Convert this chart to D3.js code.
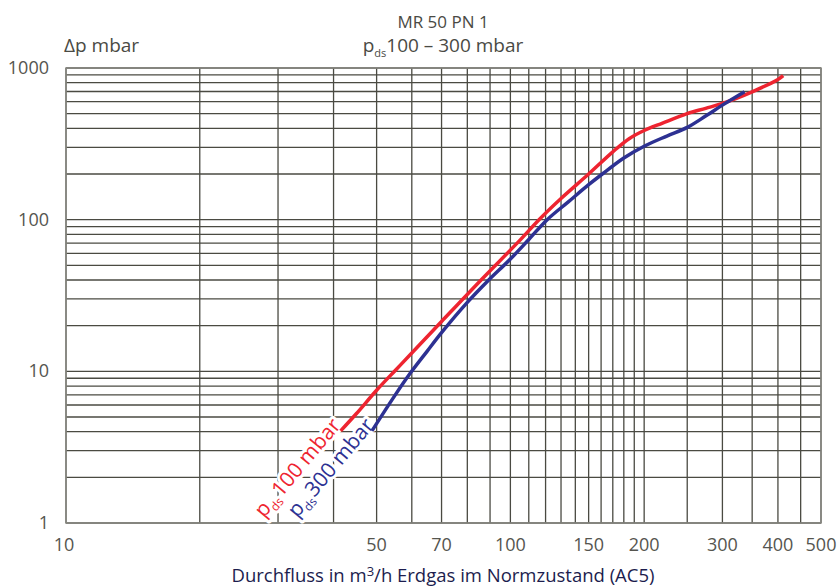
<!DOCTYPE html>
<html>
<head>
<meta charset="utf-8">
<script src="https://cdn.jsdelivr.net/npm/d3@7"></script>
<style>
  body { margin: 0; background: #fff; }
  svg text { font-family: "Open Sans", Lato, sans-serif; }
</style>
</head>
<body>
<svg id="chart" width="839" height="588"></svg>
<script>
// flow values (m3/h) and pressure drop (mbar)
var flow100 = [41.5, 45, 50, 55, 60, 70, 85.6, 105, 116, 130, 150, 170, 185, 200, 220, 250, 275, 300, 350, 400, 411];
var dp100   = [4.05, 5.25, 7.5, 10.1, 13.2, 21.3, 39.6, 73, 100, 138, 200, 280, 342, 387, 433, 500, 542, 584, 697, 840, 890];

var flow300 = [48.8, 54.8, 59.5, 65, 70, 80, 88.6, 100, 110, 121, 135, 150, 161, 180, 200, 225, 250, 275, 300, 336.5];
var dp300   = [4.05, 6.84, 9.7, 13.6, 18, 28.5, 39, 55, 74, 100, 131, 170, 200, 255, 305, 356, 406, 482, 569, 697];

var xTickLabels = [10, 50, 70, 100, 150, 200, 300, 400, 500];
var yTickLabels = [1, 10, 100, 1000];
var xGrid = [10, 20, 30, 40, 50, 60, 70, 80, 90, 100, 110, 120, 130, 140, 150, 160, 170, 180, 190, 200, 250, 300, 350, 400, 450, 500];
var yGrid = [1, 2, 3, 4, 5, 6, 7, 8, 9, 10, 20, 30, 40, 50, 60, 70, 80, 90, 100, 200, 300, 400, 500, 600, 700, 800, 900, 1000];

var plotLeft = 66, plotRight = 821, plotTop = 68, plotBottom = 523;

var svg = d3.select("#chart");

var x = d3.scaleLog().domain([10, 500]).range([plotLeft, plotRight]);
var y = d3.scaleLog().domain([1, 1000]).range([plotBottom, plotTop]);

//grid lines
svg.append("g").selectAll("line")
    .data(yGrid)
    .enter()
    .append("line")
    .attr("x1", plotLeft).attr("x2", plotRight)
    .attr("y1", function (d) { return y(d); })
    .attr("y2", function (d) { return y(d); })
    .style("stroke", "#4a4a42")
    .style("stroke-width", 1.3);

svg.append("g").selectAll("line")
    .data(xGrid)
    .enter()
    .append("line")
    .attr("y1", plotTop).attr("y2", plotBottom)
    .attr("x1", function (d) { return x(d); })
    .attr("x2", function (d) { return x(d); })
    .style("stroke", "#4a4a42")
    .style("stroke-width", 1.3);

//frame
svg.append("rect")
    .attr("x", plotLeft).attr("y", plotTop)
    .attr("width", plotRight - plotLeft).attr("height", plotBottom - plotTop)
    .style("fill", "none")
    .style("stroke", "#8a8a84")
    .style("stroke-width", 1.5);

//tick labels
svg.append("g").selectAll("text")
    .data(xTickLabels)
    .enter()
    .append("text")
    .attr("x", function (d) { return d == 10 ? x(d) - 2 : x(d); })
    .attr("y", 551)
    .attr("text-anchor", "middle")
    .style("font-size", "18px")
    .style("fill", "#55554f")
    .text(function (d) { return d; });

svg.append("g").selectAll("text")
    .data(yTickLabels)
    .enter()
    .append("text")
    .attr("x", 49)
    .attr("y", function (d) { return y(d) + 6; })
    .attr("text-anchor", "end")
    .style("font-size", "18px")
    .style("fill", "#55554f")
    .text(function (d) { return d; });

//titles
svg.append("text")
    .attr("x", 443).attr("y", 28)
    .attr("text-anchor", "middle")
    .style("font-size", "17px")
    .style("fill", "#4a4a44")
    .text("MR 50 PN 1");

var sub = svg.append("text")
    .attr("x", 443).attr("y", 52)
    .attr("text-anchor", "middle")
    .style("font-size", "19px")
    .style("fill", "#4a4a44");
sub.append("tspan").text("p");
sub.append("tspan").attr("dy", 5).style("font-size", "11px").text("ds");
sub.append("tspan").attr("dy", -5).text("100 \u2013 300 mbar");

svg.append("text")
    .attr("x", 64).attr("y", 52)
    .style("font-size", "19px")
    .style("fill", "#4a4a44")
    .text("\u0394p mbar");

var xt = svg.append("text")
    .attr("x", 443).attr("y", 582)
    .attr("text-anchor", "middle")
    .style("font-size", "18.5px")
    .style("fill", "#1c1d4e");
xt.append("tspan").text("Durchfluss in m");
xt.append("tspan").attr("dy", -6).style("font-size", "13px").text("3");
xt.append("tspan").attr("dy", 6).text("/h Erdgas im Normzustand (AC5)");

//rotated curve labels with white halo (drawn under the curves)
function curveLabel (px, py, txt, color) {
    var t = svg.append("text")
        .attr("transform", "translate(" + px + "," + py + ") rotate(-50)")
        .attr("text-anchor", "end")
        .style("font-size", "21px")
        .style("fill", color)
        .style("stroke", "#fff")
        .style("stroke-width", 6)
        .style("stroke-linejoin", "round")
        .style("paint-order", "stroke");
    t.append("tspan").text("p");
    t.append("tspan").attr("dy", 5).style("font-size", "12px").text("ds");
    t.append("tspan").attr("dy", -5).attr("dx", 1).text(txt);
}

curveLabel(x(flow100[0]) + 1, y(dp100[0]) - 5, "100 mbar", "#ee2430");
curveLabel(x(flow300[0]) + 3, y(dp300[0]) - 5, "300 mbar", "#2d3192");

//curves
var line = d3.line()
    .x(function (d) { return x(d[0]); })
    .y(function (d) { return y(d[1]); })
    .curve(d3.curveCatmullRom.alpha(0.5));

var series = [
    { flow: flow100, dp: dp100, color: "#ee2430" },
    { flow: flow300, dp: dp300, color: "#2d3192" }
];

series.forEach(function (s) {
    var pts = s.flow.map(function (f, i) { return [f, s.dp[i]]; });
    svg.append("path")
        .datum(pts)
        .attr("d", line)
        .style("fill", "none")
        .style("stroke", s.color)
        .style("stroke-width", 3.5)
        .style("stroke-linecap", "butt");
});
</script>
</body>
</html>
